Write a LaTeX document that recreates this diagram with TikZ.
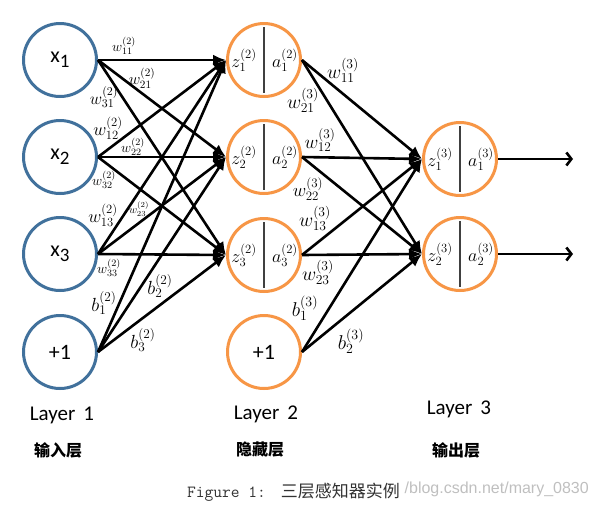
\RequirePackage{fix-cm}
\documentclass[tikz,border=0pt]{standalone}
\usepackage{fontspec}
\newfontfamily\calib{Carlito}
\newfontfamily\cjk{Noto Sans CJK SC}
\newfontfamily\wmfont{Liberation Sans}
\usetikzlibrary{arrows.meta}
\definecolor{inblue}{RGB}{65,113,156}
\definecolor{hidorange}{RGB}{247,150,70}
\definecolor{captgray}{RGB}{50,50,50}
\newcommand{\fs}[1]{\fontsize{#1}{#1}\selectfont}
\begin{document}
\begin{tikzpicture}[x=1pt,y=-1pt,
  neuron/.style={circle,draw,line width=3pt,minimum size=73pt,inner sep=0pt,fill=white},
  inneuron/.style={neuron,draw=inblue},
  hidneuron/.style={neuron,draw=hidorange},
  edge/.style={line width=2.6pt,-{Latex[length=13pt,width=11pt]}},
  outedge/.style={line width=2.6pt,-{Straight Barb[length=5pt,width=13pt,line width=2.6pt]}},
  divider/.style={line width=1.8pt,draw=black!75},
  lab/.style={inner sep=0pt},
  nodetext/.style={font=\calib\fontsize{22}{24}\selectfont},
  laytext/.style={font=\calib\fontsize{21}{24}\selectfont},
  cjktext/.style={font=\cjk\bfseries\fontsize{16}{18}\selectfont},
]
\useasboundingbox (0,0) rectangle (599,507);

% input layer
\node[inneuron,nodetext] (i1) at (60,60) {x\raisebox{-5pt}{\fontsize{19}{20}\selectfont 1}};
\node[inneuron,nodetext] (i2) at (60,157) {x\raisebox{-5pt}{\fontsize{19}{20}\selectfont 2}};
\node[inneuron,nodetext] (i3) at (60,254) {x\raisebox{-5pt}{\fontsize{19}{20}\selectfont 3}};
\node[inneuron,nodetext] (ib) at (60,352) {+1};

% hidden layer
\node[hidneuron] (h1) at (264,60) {};
\node[hidneuron] (h2) at (264,157) {};
\node[hidneuron] (h3) at (264,255) {};
\node[hidneuron,nodetext] (hb) at (264,352) {+1};

% output layer
\node[hidneuron] (o1) at (460,159) {};
\node[hidneuron] (o2) at (460,254) {};

% dividers and contents
\foreach \n/\l/\k in {h1/1/2,h2/2/2,h3/3/2,o1/1/3,o2/2/3}{
  \draw[divider] ([yshift=-5pt]\n.north) -- ([yshift=5pt]\n.south);
  \node[lab,font=\fs{18}] at ([xshift=-20pt]\n.center) {$z_{\l}^{(\k)}$};
  \node[lab,font=\fs{18}] at ([xshift=21pt]\n.center) {$a_{\l}^{(\k)}$};
}

% connections layer 1 -> 2
\foreach \s in {i1,i2,i3,ib}
  \foreach \t in {h1,h2,h3}
    \draw[edge] (\s.east) -- (\t.west);

% connections layer 2 -> 3
\foreach \s in {h1,h2,h3,hb}
  \foreach \t in {o1,o2}
    \draw[edge] (\s.east) -- (\t.west);

% outputs
\coordinate (e1) at (573,159);
\coordinate (e2) at (573,254);
\draw[outedge] (o1.east) -- (e1);
\draw[outedge] (o2.east) -- (e2);

% weight labels layer 1
\node[lab,font=\fs{14}] (w11a) at (124,46) {$w_{11}^{(2)}$};
\node[lab,font=\fs{16}] (w21a) at (142,78) {$w_{21}^{(2)}$};
\node[lab,font=\fs{17}] (w31a) at (104,97) {$w_{31}^{(2)}$};
\node[lab,font=\fs{18}] (w12a) at (108,128) {$w_{12}^{(2)}$};
\node[lab,font=\fs{14}] (w22a) at (133,147) {$w_{22}^{(2)}$};
\node[lab,font=\fs{14}] (w32a) at (104,180) {$w_{32}^{(2)}$};
\node[lab,font=\fs{18}] (w13a) at (103,215) {$w_{13}^{(2)}$};
\node[lab,font=\fs{11}] (w23a) at (139,209) {$w_{23}^{(2)}$};
\node[lab,font=\fs{14}] (w33a) at (109,268) {$w_{33}^{(2)}$};
\node[lab,font=\fs{19}] (b1a) at (104,303) {$b_{1}^{(2)}$};
\node[lab,font=\fs{19}] (b2a) at (160,286) {$b_{2}^{(2)}$};
\node[lab,font=\fs{19}] (b3a) at (143,340) {$b_{3}^{(2)}$};

% weight labels layer 2
\node[lab,font=\fs{19.5}] (w11b) at (343,70) {$w_{11}^{(3)}$};
\node[lab,font=\fs{19.5}] (w21b) at (303,100) {$w_{21}^{(3)}$};
\node[lab,font=\fs{19}] (w12b) at (320,140) {$w_{12}^{(3)}$};
\node[lab,font=\fs{18.5}] (w22b) at (308,189) {$w_{22}^{(3)}$};
\node[lab,font=\fs{19.5}] (w13b) at (315,218) {$w_{13}^{(3)}$};
\node[lab,font=\fs{19.5}] (w23b) at (318,272) {$w_{23}^{(3)}$};
\node[lab,font=\fs{20}] (b1b) at (305,308) {$b_{1}^{(3)}$};
\node[lab,font=\fs{20}] (b2b) at (351,341) {$b_{2}^{(3)}$};

% layer captions
\node[laytext] (L1) at (62,415) {Layer\hspace{8pt}1};
\node[laytext] (L2) at (266,414) {Layer\hspace{8pt}2};
\node[laytext] (L3) at (459,409) {Layer\hspace{8pt}3};
\node[cjktext] (C1) at (58,450) {输入层};
\node[cjktext] (C2) at (260,450) {隐藏层};
\node[cjktext] (C3) at (456,450) {输出层};

% figure caption and watermark
\node[lab,anchor=west,text=captgray] (cap) at (187,492)
  {{\ttfamily\fontsize{17}{18}\selectfont Figure 1:}\hspace{15pt}{\cjk\fontsize{17}{18}\selectfont 三层感知器实例}};
\node[lab,anchor=east,text=black!25,font=\wmfont\fontsize{16}{18}\selectfont] (wm) at (589,489) {/blog.csdn.net/mary\_0830};
\end{tikzpicture}
\end{document}
